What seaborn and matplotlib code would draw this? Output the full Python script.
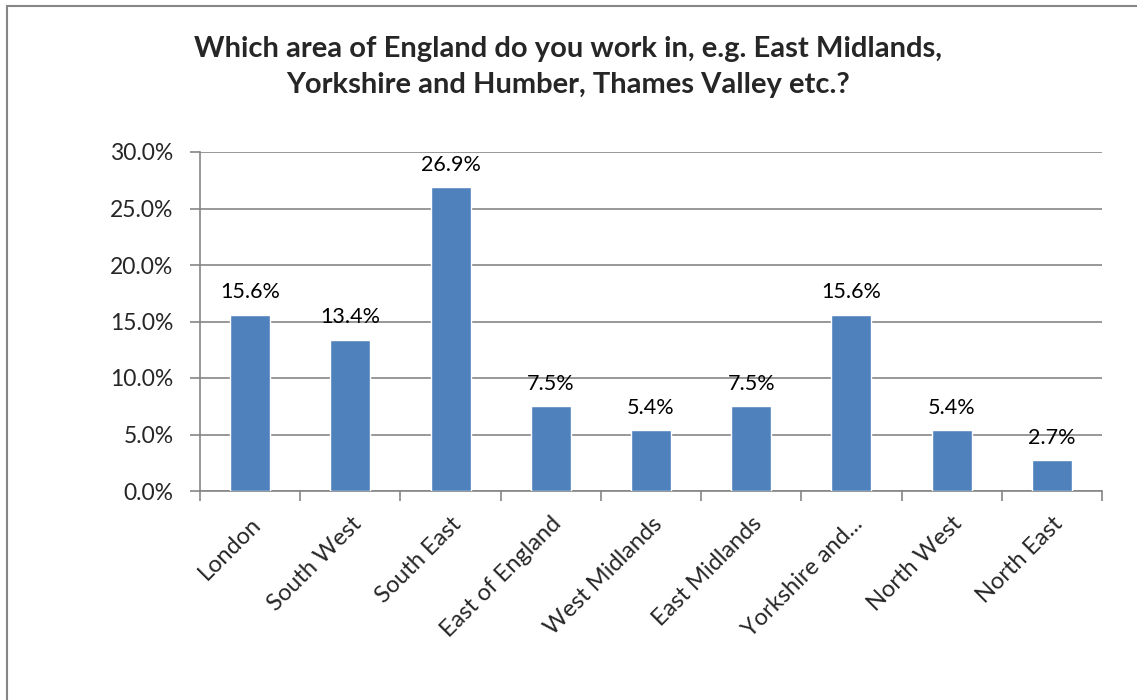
import numpy as np
import pandas as pd
import matplotlib
matplotlib.use('Agg')
import matplotlib.pyplot as plt
import seaborn as sns
from matplotlib.patches import Rectangle

regions = ['London', 'South West', 'South East', 'East of England', 'West Midlands',
           'East Midlands', 'Yorkshire and...', 'North West', 'North East']
shares = [15.6, 13.4, 26.9, 7.5, 5.4, 7.5, 15.6, 5.4, 2.7]
y_ticks = [0, 5, 10, 15, 20, 25, 30]

sns.set_theme(style="white")
plt.rcParams['font.family'] = ['Lato', 'DejaVu Sans']

df = pd.DataFrame({'Region': regions, 'Share': shares})

fig = plt.figure(figsize=(11.37, 7), dpi=100)
ax = fig.add_axes([200/1137, 1-491/700, 902/1137, 339/700])

sns.barplot(data=df, x='Region', y='Share', color='#4F81BD', width=0.4,
            saturation=1, ax=ax, zorder=3)

grey = '#868686'
ax.set_ylim(0, 30)
ax.set_xlim(-0.5, len(regions) - 0.5)
ax.set_yticks(y_ticks)
ax.set_yticklabels([f'{t:.1f}%' for t in y_ticks], fontsize=16.5)
ax.yaxis.grid(True, color=grey, linewidth=1.2, zorder=0)
ax.set_axisbelow(True)

# ticks at category boundaries
ax.set_xticks(np.arange(-0.5, len(regions)), minor=False)
ax.set_xticklabels([])
ax.set_xticks(np.arange(len(regions)), minor=True)
ax.set_xticklabels(regions, minor=True, rotation=45, ha='right',
                   rotation_mode='anchor', fontsize=17)
ax.tick_params(axis='x', which='major', length=7, width=1.2, color=grey, direction='out', bottom=True)
ax.tick_params(axis='x', which='minor', length=0, pad=16)
ax.tick_params(axis='y', length=7, width=1.2, color=grey, direction='out', left=True, pad=12)

for side in ['top', 'right']:
    ax.spines[side].set_visible(False)
for side in ['left', 'bottom']:
    ax.spines[side].set_color(grey)
    ax.spines[side].set_linewidth(1.2)

for i, v in enumerate(shares):
    ax.text(i, v + 1.1, f'{v:.1f}%', ha='center', va='bottom', fontsize=15.5, color='black')

ax.set_xlabel('')
ax.set_ylabel('')

fig.text(0.5, 1 - 67/700,
         'Which area of England do you work in, e.g. East Midlands,\nYorkshire and Humber, Thames Valley etc.?',
         ha='center', va='center', fontsize=21, fontweight='bold', linespacing=1.5)

fig.patches.append(Rectangle((7/1137, -0.1), 1.2, 1 - 6/700 + 0.1, transform=fig.transFigure,
                             fill=False, edgecolor=grey, linewidth=1.5))

fig.savefig('out.png', dpi=100)
